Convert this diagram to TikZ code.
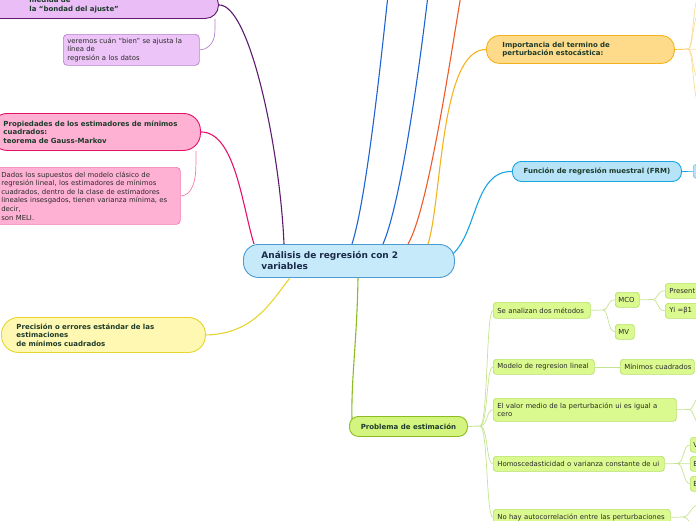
\documentclass[tikz,border=0pt]{standalone}
\usepackage{fontspec}
\setmainfont{DejaVu Sans}
\usetikzlibrary{calc}
\definecolor{txtdark}{HTML}{1D3B2A}
\definecolor{txtnavy}{HTML}{1A2A4A}
\definecolor{txtgray}{HTML}{2A2A2A}
\definecolor{cenF}{HTML}{C6EAF9}
\definecolor{cenB}{HTML}{4A9BD3}
\definecolor{purF}{HTML}{EABDF6}
\definecolor{purB}{HTML}{5E1A6E}
\definecolor{purcF}{HTML}{ECC4F7}
\definecolor{purcB}{HTML}{B583CC}
\definecolor{pinkF}{HTML}{FFB1D3}
\definecolor{pinkB}{HTML}{E5116A}
\definecolor{pinkcB}{HTML}{F27BAE}
\definecolor{yelF}{HTML}{FFF8B2}
\definecolor{yelB}{HTML}{E6D52E}
\definecolor{orgF}{HTML}{FEDB8B}
\definecolor{orgB}{HTML}{F6B21C}
\definecolor{orgL}{HTML}{FCDC94}
\definecolor{frmF}{HTML}{B6E3F8}
\definecolor{frmB}{HTML}{1AA3E0}
\definecolor{blueL}{HTML}{1E64D0}
\definecolor{redL}{HTML}{F05A28}
\definecolor{gMainF}{HTML}{D3F47E}
\definecolor{gMainB}{HTML}{8CBB22}
\definecolor{gF}{HTML}{DAF98E}
\definecolor{gB}{HTML}{B7E168}
\definecolor{gL}{HTML}{C4E48E}
\begin{document}
\begin{tikzpicture}[x=1pt,y=-1pt,
  base/.style={anchor=north west, inner ysep=0pt, align=left},
  big/.style={base, line width=0.9pt, font=\fontsize{7}{8.6}\selectfont\bfseries, text=txtdark},
  small/.style={base, line width=0.7pt, font=\fontsize{6.9}{8.3}\selectfont, text=txtgray},
  gbox/.style={small, draw=gB, fill=gF, rounded corners=3pt, inner xsep=4pt},
  mainline/.style={line width=1.1pt},
  thinline/.style={line width=0.7pt}
]
\useasboundingbox (0,0) rectangle (696,520);
\clip (0,0) rectangle (696,520);

% ---------- nodes ----------
\node[base, draw=cenB, fill=cenF, line width=0.9pt, rounded corners=15pt,
      minimum height=33pt, inner xsep=18pt, text width=175pt,
      font=\fontsize{9}{11}\selectfont\bfseries, text=txtnavy] (c) at (243,244)
      {\mbox{Análisis de regresión con 2}\\variables};

\node[big, draw=purB, fill=purF, rounded corners=13pt,
      minimum height=27pt, inner xsep=49pt, text width=140pt] (pa) at (-20,-9)
      {medida de\\\mbox{la “bondad del ajuste”}};
\node[small, draw=purcB, fill=purcF, rounded corners=4pt,
      minimum height=31pt, inner xsep=4pt, text width=128pt] (pc) at (63,34)
      {\mbox{veremos cuán “bien” se ajusta la}\\línea de\\\mbox{regresión a los datos}};

\node[big, draw=pinkB, fill=pinkF, rounded corners=17pt,
      minimum height=37pt, inner xsep=13pt, text width=184pt] (ka) at (-10,113)
      {\mbox{Propiedades de los estimadores de mínimos}\\cuadrados:\\\mbox{teorema de Gauss-Markov}};
\node[small, draw=pinkcB, fill=pinkF, rounded corners=4pt,
      minimum height=57pt, inner xsep=11pt, text width=168pt,
      font=\fontsize{6.9}{8.6}\selectfont] (kc) at (-10,167)
      {\mbox{Dados los supuestos del modelo clásico de}\\\mbox{regresión lineal, los estimadores de mínimos}\\\mbox{cuadrados, dentro de la clase de estimadores}\\\mbox{lineales insesgados, tienen varianza mínima, es}\\decir,\\son MELI.};

\node[big, draw=yelB, fill=yelF, rounded corners=17pt,
      minimum height=35pt, inner xsep=15pt, text width=174pt] (ya) at (1,317)
      {\mbox{Precisión o errores estándar de las}\\estimaciones\\\mbox{de mínimos cuadrados}};

\node[big, draw=orgB, fill=orgF, rounded corners=13pt,
      minimum height=28pt, inner xsep=16pt, text width=156pt] (ia) at (486,35)
      {\mbox{Importancia del termino de}\\\mbox{perturbación estocástica:}};

\node[big, draw=frmB, fill=frmF, rounded corners=9pt, minimum width=169pt,
      minimum height=20pt, inner xsep=4pt, align=center] (fa) at (512,161)
      {Función de regresión muestral (FRM)};
\node[small, draw=frmB!60, fill=frmF, rounded corners=3pt, minimum width=30pt,
      minimum height=14pt] (fb) at (693,164) {};

\node[big, draw=gMainB, fill=gMainF, rounded corners=9pt, minimum width=118pt,
      minimum height=20pt, inner xsep=4pt, align=center] (ga) at (349,416)
      {Problema de estimación};

\node[gbox, text width=89pt, minimum height=16pt] (g1) at (493,302) {\mbox{Se analizan dos métodos}};
\node[gbox, text width=93pt, minimum height=15pt] (g2) at (493,359) {\mbox{Modelo de regresion lineal}};
\node[gbox, text width=175pt, minimum height=23pt] (g3) at (493,398)
      {\mbox{El valor medio de la perturbación ui es igual a}\\cero};
\node[gbox, text width=163pt, minimum height=15pt] (g4) at (493,456) {\mbox{Homoscedasticidad o varianza constante de ui}};
\node[gbox, text width=169pt, minimum height=16pt] (g5) at (493,509) {\mbox{No hay autocorrelación entre las perturbaciones}};

\node[gbox, text width=18pt, minimum height=15pt, inner xsep=3pt] (m1) at (615,292) {\mbox{MCO}};
\node[gbox, text width=13pt, minimum height=15pt, inner xsep=3pt] (m2) at (615,324) {\mbox{MV}};
\node[gbox, text width=52pt, minimum height=15pt] (p1) at (665,283) {\mbox{Present}};
\node[gbox, text width=52pt, minimum height=15pt] (p2) at (665,303) {\mbox{Yi =β1}};
\node[gbox, text width=66pt, minimum height=15pt] (mc) at (620,359) {\mbox{Mínimos cuadrados}};
\node[gbox, text width=24pt, minimum height=15pt, inner xsep=3pt] (h1) at (690,437) {V};
\node[gbox, text width=24pt, minimum height=15pt, inner xsep=3pt] (h2) at (690,456) {E};
\node[gbox, text width=24pt, minimum height=15pt, inner xsep=3pt] (h3) at (690,476) {E};

% free ends
\coordinate (tb1) at (388,-5);
\coordinate (tb2) at (428,-5);
\coordinate (tr1) at (461,-5);
\coordinate (ghub) at (480,426);

% ---------- main connectors ----------
\draw[mainline, purB] (pa.east) .. controls (250,4) and (280,150) .. ($(c.north west)+(41,0)$);
\draw[thinline, purcB] ($(pa.south east)+(-4,0)$) -- ($(pa.south east)+(-4,12)$)
      .. controls ($(pa.south east)+(-4,26)$) and ($(pc.east)+(6,0)$) .. (pc.east);
\draw[mainline, pinkB] (ka.east) .. controls (235,132) and (242,205) .. ($(c.north west)+(11,0)$);
\draw[thinline, pinkcB] ($(ka.south east)+(-5,0)$) -- ($(ka.south east)+(-5,14)$)
      .. controls ($(ka.south east)+(-5,40)$) and ($(kc.east)+(6,0)$) .. (kc.east);
\draw[mainline, yelB] (ya.east) .. controls (255,334) and (272,300) .. ($(c.south west)+(47,0)$);
\draw[mainline, blueL] ($(c.north west)+(109,0)$) .. controls (366,200) and (380,70) .. (tb1);
\draw[mainline, blueL] ($(c.north west)+(140,0)$) .. controls (400,205) and (418,80) .. (tb2);
\draw[mainline, redL] ($(c.north west)+(165,0)$) .. controls (428,210) and (450,60) .. (tr1);
\draw[mainline, orgB] ($(c.north west)+(185,0)$) .. controls (442,200) and (440,49) .. (ia.west);
\draw[mainline, frmB] ($(c.north east)+(-2,10)$) .. controls (478,230) and (474,171) .. (fa.west);
\draw[mainline, gMainB] ($(c.south west)+(115,0)$) .. controls (357,340) and (351,380) .. ($(ga.north west)+(3,3)$);

% ---------- right side fans ----------
\coordinate (ihub) at (688,49);
\draw[thinline, orgB] (ia.east) -- (ihub);
\foreach \yy in {-8,10,49,82,108}
  \draw[thinline, orgL] (ihub) .. controls (694,49) and (692,\yy) .. (702,\yy);
\draw[thinline, frmB] (fa.east) -- (fb.west);

\draw[line width=0.9pt, gL] (ga.east) -- (ghub);
\foreach \n in {g1,g2,g3,g4,g5}
  \draw[thinline, gL] (ghub) .. controls +(8,0) and +(-7,0) .. (\n.west);

\draw[thinline, gL] (g1.east) -- (603,310);
\draw[thinline, gL] (603,310) .. controls (609,310) and (607,299.5) .. (m1.west);
\draw[thinline, gL] (603,310) .. controls (609,310) and (607,331.5) .. (m2.west);
\draw[thinline, gL] (m1.east) -- (652,299.5);
\draw[thinline, gL] (652,299.5) .. controls (659,299.5) and (656,290.5) .. (p1.west);
\draw[thinline, gL] (652,299.5) .. controls (659,299.5) and (656,310.5) .. (p2.west);
\draw[thinline, gL] (g2.east) -- (mc.west);
\coordinate (vhub) at (689,409.5);
\draw[thinline, gL] (g3.east) -- (vhub);
\draw[thinline, gL] (vhub) .. controls (694,409.5) and (694,397) .. (702,395);
\draw[thinline, gL] (vhub) .. controls (694,409.5) and (694,424) .. (702,426);
\coordinate (hhub) at (677,463.5);
\draw[thinline, gL] (g4.east) -- (hhub);
\draw[thinline, gL] (hhub) .. controls (684,463.5) and (683,444.5) .. (h1.west);
\draw[thinline, gL] (hhub) -- (h2.west);
\draw[thinline, gL] (hhub) .. controls (684,463.5) and (683,483.5) .. (h3.west);
\coordinate (nhub) at (683,517);
\draw[thinline, gL] (g5.east) -- (nhub);
\draw[thinline, gL] (nhub) .. controls (690,517) and (690,505) .. (702,503);
\draw[thinline, gL] (nhub) .. controls (690,517) and (690,530) .. (702,532);
\end{tikzpicture}
\end{document}
